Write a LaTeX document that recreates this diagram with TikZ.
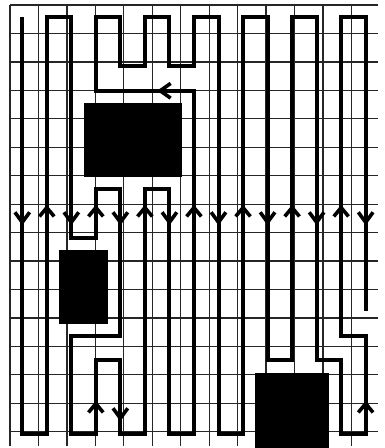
\documentclass[tikz,border=0pt]{standalone}
\begin{document}
\begin{tikzpicture}[x=1pt,y=-1pt,
  gridline/.style={draw=black!85,line width=1.2pt},
  obstacle/.style={fill=black},
  route/.style={draw=black,line width=4pt,line join=miter,line cap=butt},
  chev/.style={draw=black,line width=3.6pt,line join=miter,line cap=butt}]
\useasboundingbox (0,0) rectangle (384,448);
\begin{scope}[shift={(10pt,-5pt)},x=24.53pt,y=-24.5pt]
  \draw[gridline] (0,0) grid (15,18);
  \fill[obstacle] (3,4) rectangle (7,7);
  \fill[obstacle] (2,10) rectangle (4,13);
  \fill[obstacle] (10,15) rectangle (13,18.1);
  \draw[route] (0.5,0.5) -- (0.5,17.5) -- (1.5,17.5) -- (1.5,0.5) -- (2.5,0.5)
    -- (2.5,9.5) -- (3.5,9.5) -- (3.5,7.5) -- (4.5,7.5) -- (4.5,13.5)
    -- (2.5,13.5) -- (2.5,17.5) -- (3.5,17.5) -- (3.5,14.5) -- (4.5,14.5)
    -- (4.5,17.5) -- (5.5,17.5) -- (5.5,7.5) -- (6.5,7.5) -- (6.5,17.5)
    -- (7.5,17.5) -- (7.5,3.5) -- (3.5,3.5) -- (3.5,0.5) -- (4.5,0.5)
    -- (4.5,2.5) -- (5.5,2.5) -- (5.5,0.5) -- (6.5,0.5) -- (6.5,2.5)
    -- (7.5,2.5) -- (7.5,0.5) -- (8.5,0.5) -- (8.5,17.5) -- (9.5,17.5)
    -- (9.5,0.5) -- (10.5,0.5) -- (10.5,14.5) -- (11.5,14.5) -- (11.5,0.5)
    -- (12.5,0.5) -- (12.5,14.5) -- (13.5,14.5) -- (13.5,17.5) -- (14.5,17.5)
    -- (14.5,13.5) -- (13.5,13.5) -- (13.5,0.5) -- (14.5,0.5) -- (14.5,12.5);
  % chevrons pointing down
  \foreach \c in {0,2,4,6,8,10,12,14}
    \draw[chev] (\c+0.2,8.46) -- (\c+0.5,8.87) -- (\c+0.8,8.46);
  % chevrons pointing up
  \foreach \c in {1,3,5,7,9,11,13}
    \draw[chev] (\c+0.2,8.63) -- (\c+0.5,8.27) -- (\c+0.8,8.63);
  \draw[chev] (3.2,16.63) -- (3.5,16.27) -- (3.8,16.63);
  \draw[chev] (14.2,16.63) -- (14.5,16.27) -- (14.8,16.63);
  \draw[chev] (4.2,16.46) -- (4.5,16.87) -- (4.8,16.46);
  % chevron pointing left
  \draw[chev] (6.55,3.2) -- (6.12,3.5) -- (6.55,3.8);
\end{scope}
\end{tikzpicture}
\end{document}
